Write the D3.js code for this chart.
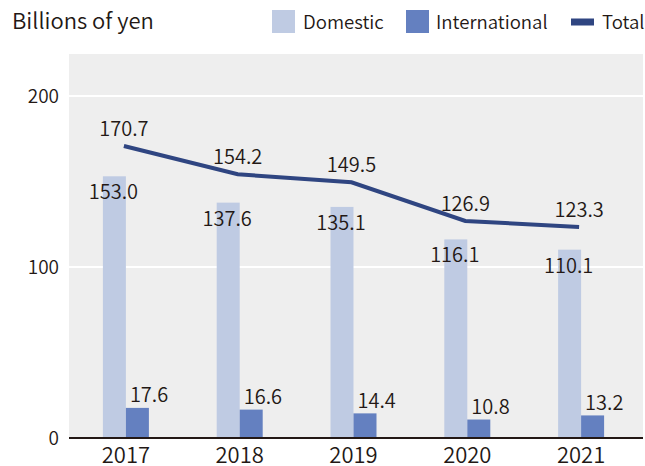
<!DOCTYPE html>
<html>
<head>
<meta charset="utf-8">
<script src="https://cdn.jsdelivr.net/npm/d3@7"></script>
<style>
  body { margin: 0; background: #fff; }
  svg text { font-family: "Noto Sans CJK JP", "Noto Sans", sans-serif; fill: #231815; font-weight: 350; }
</style>
</head>
<body>
<svg id="chart" width="645" height="466"></svg>
<script>
// data
var years = ["2017", "2018", "2019", "2020", "2021"];
var domestic = [153.0, 137.6, 135.1, 116.1, 110.1];
var international = [17.6, 16.6, 14.4, 10.8, 13.2];
var total = [170.7, 154.2, 149.5, 126.9, 123.3];
var yTicks = [0, 100, 200];

var colDom = "#bfcbe3", colInt = "#6480c0", colTot = "#2f4581";

var svg = d3.select("#chart");
var plot = {left: 69, right: 643, top: 54, bottom: 438};

var x = d3.scaleBand().domain(years).range([69, 638]);
var y = d3.scaleLinear().domain([0, 224.5]).range([plot.bottom, plot.top]);
var barW = 23;
var cx = function(i) { return x(years[i]) + x.bandwidth() / 2; };

// background
svg.append("rect")
  .attr("x", plot.left).attr("y", plot.top)
  .attr("width", plot.right - plot.left).attr("height", plot.bottom - plot.top)
  .attr("fill", "#eeeeee");

// grid
svg.selectAll(".grid")
  .data(yTicks.filter(function(d) { return d > 0; }))
  .enter().append("line")
  .attr("x1", plot.left).attr("x2", plot.right)
  .attr("y1", function(d) { return y(d); }).attr("y2", function(d) { return y(d); })
  .attr("stroke", "#fff").attr("stroke-width", 2);

// y tick labels
svg.selectAll(".ytick")
  .data(yTicks)
  .enter().append("text")
  .attr("x", 59).attr("y", function(d) { return y(d) + 7; })
  .attr("text-anchor", "end")
  .style("font-size", "19px")
  .text(function(d) { return d; });

// bars
svg.selectAll(".dom")
  .data(domestic)
  .enter().append("rect")
  .attr("x", function(d, i) { return cx(i) - barW; })
  .attr("y", function(d) { return y(d); })
  .attr("width", barW)
  .attr("height", function(d) { return y(0) - y(d); })
  .attr("fill", colDom);

svg.selectAll(".int")
  .data(international)
  .enter().append("rect")
  .attr("x", function(d, i) { return cx(i); })
  .attr("y", function(d) { return y(d); })
  .attr("width", barW)
  .attr("height", function(d) { return y(0) - y(d); })
  .attr("fill", colInt);

// axis baseline
svg.append("line")
  .attr("x1", plot.left).attr("x2", plot.right)
  .attr("y1", y(0)).attr("y2", y(0))
  .attr("stroke", "#231815").attr("stroke-width", 2);

// year labels
svg.selectAll(".year")
  .data(years)
  .enter().append("text")
  .attr("x", function(d, i) { return cx(i); })
  .attr("y", 463)
  .attr("text-anchor", "middle")
  .style("font-size", "22px")
  .text(function(d) { return d; });

// total line
var line = d3.line()
  .x(function(d, i) { return cx(i) - 2; })
  .y(function(d) { return y(d); });
svg.append("path")
  .datum(total)
  .attr("d", line)
  .attr("fill", "none")
  .attr("stroke", colTot)
  .attr("stroke-width", 4);

// value labels
svg.selectAll(".totlab")
  .data(total)
  .enter().append("text")
  .attr("x", function(d, i) { return cx(i) - 2; })
  .attr("y", function(d) { return y(d) - 10; })
  .attr("text-anchor", "middle")
  .style("font-size", "20px")
  .text(function(d) { return d.toFixed(1); });

svg.selectAll(".domlab")
  .data(domestic)
  .enter().append("text")
  .attr("x", function(d, i) { return cx(i) - barW / 2 - 1; })
  .attr("y", function(d) { return y(d) + 23; })
  .attr("text-anchor", "middle")
  .style("font-size", "20px")
  .text(function(d) { return d.toFixed(1); });

svg.selectAll(".intlab")
  .data(international)
  .enter().append("text")
  .attr("x", function(d, i) { return cx(i) + 4; })
  .attr("y", function(d) { return y(d) - 5.5; })
  .style("font-size", "20px")
  .text(function(d) { return d.toFixed(1); });

// title
svg.append("text")
  .attr("x", 12).attr("y", 29)
  .style("font-size", "22px")
  .text("Billions of yen");

// legend
var leg = svg.append("g");
leg.append("rect").attr("x", 272).attr("y", 10).attr("width", 23).attr("height", 23).attr("fill", colDom);
leg.append("text").attr("x", 303).attr("y", 29).style("font-size", "18.6px").text("Domestic");
leg.append("rect").attr("x", 406).attr("y", 10).attr("width", 23).attr("height", 23).attr("fill", colInt);
leg.append("text").attr("x", 436).attr("y", 29).style("font-size", "18.6px").text("International");
leg.append("rect").attr("x", 571).attr("y", 18.5).attr("width", 23).attr("height", 7).attr("fill", colTot);
leg.append("text").attr("x", 602).attr("y", 29).style("font-size", "18.6px").text("Total");
</script>
</body>
</html>
